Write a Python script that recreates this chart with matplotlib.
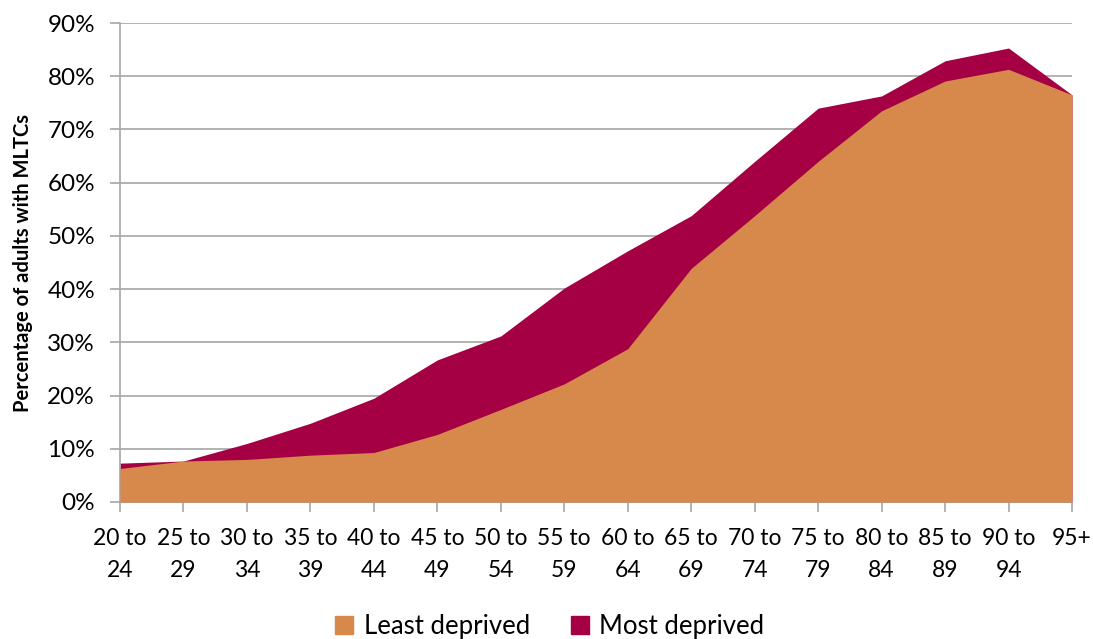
import matplotlib.pyplot as plt
from matplotlib.patches import Patch

plt.rcParams['font.family'] = ['Lato', 'DejaVu Sans']

age_groups = ['20 to\n24', '25 to\n29', '30 to\n34', '35 to\n39', '40 to\n44', '45 to\n49',
              '50 to\n54', '55 to\n59', '60 to\n64', '65 to\n69', '70 to\n74', '75 to\n79',
              '80 to\n84', '85 to\n89', '90 to\n94', '95+\n']
least_deprived = [6.3, 7.7, 8.0, 8.8, 9.3, 12.7, 17.4, 22.2, 28.8, 43.9, 53.8, 64.0, 73.5, 79.1, 81.3, 76.5]
most_deprived = [7.3, 7.7, 11.0, 14.8, 19.5, 26.7, 31.2, 40.2, 47.2, 53.8, 64.0, 74.0, 76.3, 82.9, 85.3, 76.5]

c_least = '#D6894A'
c_most = '#A50044'
grid_c = '#A6A6A6'

fig = plt.figure(figsize=(10.93, 6.39), dpi=100)
ax = fig.add_axes([0.1098, 0.2144, 0.871, 0.7496])

x = range(len(age_groups))
ax.fill_between(x, 0, most_deprived, color=c_most, lw=0, zorder=2)
ax.fill_between(x, 0, least_deprived, color=c_least, lw=0, zorder=3)

ax.set_xlim(0, len(age_groups) - 1)
ax.set_ylim(0, 90)
ax.set_yticks(range(0, 91, 10))
ax.set_yticklabels([f'{v}%' for v in range(0, 91, 10)], fontsize=17.5)
ax.set_xticks(list(x))
ax.set_xticklabels(age_groups, fontsize=16.5, linespacing=1.65)
ax.yaxis.grid(True, color=grid_c, lw=1.2, zorder=1)
ax.set_axisbelow(True)

for s in ['top', 'right']:
    ax.spines[s].set_visible(False)
for s in ['left', 'bottom']:
    ax.spines[s].set_color(grid_c)
    ax.spines[s].set_linewidth(1.2)
ax.tick_params(axis='both', color=grid_c, length=7, width=1.2, colors='black')
ax.tick_params(axis='x', pad=12)
ax.tick_params(axis='y', pad=11)

ax.set_ylabel('Percentage of adults with MLTCs', fontsize=14.5, fontweight='bold')
ax.yaxis.set_label_coords(-0.091, 0.5)

handles = [Patch(color=c_least, label='Least deprived'), Patch(color=c_most, label='Most deprived')]
fig.legend(handles=handles, loc='center', bbox_to_anchor=(0.503, 0.02), ncol=2, frameon=False,
           fontsize=18.5, handlelength=0.7, handleheight=0.7, handletextpad=0.4, columnspacing=1.6)

fig.savefig('out.png', dpi=100)
